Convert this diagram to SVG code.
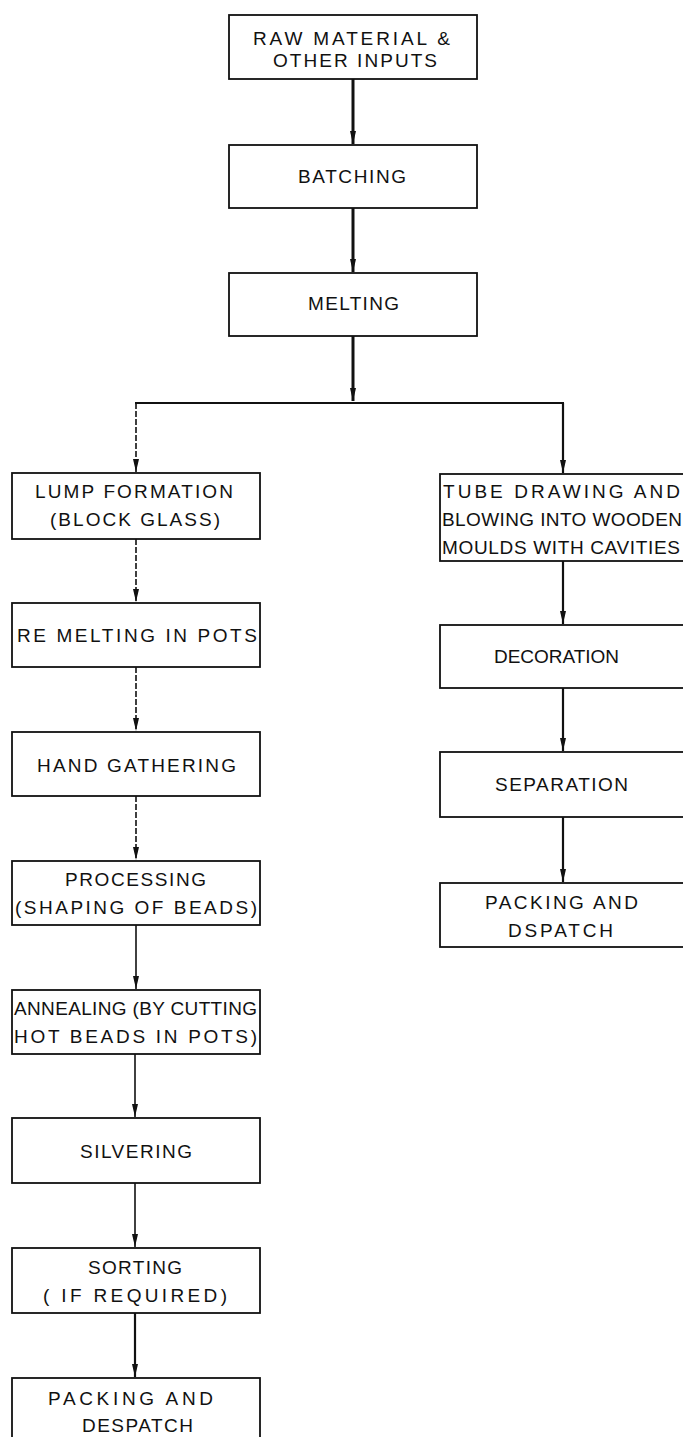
<svg xmlns="http://www.w3.org/2000/svg" width="683" height="1437" viewBox="0 0 683 1437">
<style>
  .box { fill: #fff; stroke: #111; stroke-width: 1.8; }
  .t { font-family: "Liberation Sans", Arial, sans-serif; font-size: 19px; fill: #111; }
  .c { fill: none; stroke: #111; }
  .thick { stroke-width: 3; }
  .mid { stroke-width: 2.2; }
  .thin { stroke-width: 1.6; }
  .dash { stroke-dasharray: 6 2; }
</style>
<defs>
  <marker id="ah" markerUnits="userSpaceOnUse" markerWidth="14" markerHeight="8" refX="13" refY="4" orient="auto" viewBox="0 0 14 8">
    <path d="M0,1 L13,4 L0,7 Z" fill="#111"/>
  </marker>
</defs>
<rect width="683" height="1437" fill="#fff"/>

<g id="connectors">
  <line class="c thick" x1="353" y1="79" x2="353" y2="144" marker-end="url(#ah)"/>
  <line class="c thick" x1="353" y1="208" x2="353" y2="272" marker-end="url(#ah)"/>
  <line class="c thick" x1="353" y1="336" x2="353" y2="401" marker-end="url(#ah)"/>
  <line class="c mid" x1="135" y1="403" x2="564" y2="403"/>
  <line class="c thin dash" x1="136" y1="403" x2="136" y2="472" marker-end="url(#ah)"/>
  <line class="c mid" x1="563" y1="403" x2="563" y2="473" marker-end="url(#ah)"/>
  <line class="c thin dash" x1="136" y1="539" x2="136" y2="602" marker-end="url(#ah)"/>
  <line class="c thin dash" x1="136" y1="667" x2="136" y2="731" marker-end="url(#ah)"/>
  <line class="c thin dash" x1="136" y1="796" x2="136" y2="860" marker-end="url(#ah)"/>
  <line class="c thin" x1="136" y1="925" x2="136" y2="989" marker-end="url(#ah)"/>
  <line class="c thin" x1="135" y1="1054" x2="135" y2="1117" marker-end="url(#ah)"/>
  <line class="c thin" x1="135" y1="1183" x2="135" y2="1247" marker-end="url(#ah)"/>
  <line class="c mid" x1="135" y1="1313" x2="135" y2="1377" marker-end="url(#ah)"/>
  <line class="c mid" x1="563" y1="561" x2="563" y2="624" marker-end="url(#ah)"/>
  <line class="c mid" x1="563" y1="688" x2="563" y2="751" marker-end="url(#ah)"/>
  <line class="c mid" x1="563" y1="817" x2="563" y2="882" marker-end="url(#ah)"/>
</g>

<g id="raw">
  <rect class="box" x="229" y="15" width="248" height="64"/>
  <text class="t" x="253" y="45" textLength="197" lengthAdjust="spacing">RAW MATERIAL &amp;</text>
  <text class="t" x="273" y="67" textLength="164" lengthAdjust="spacing">OTHER INPUTS</text>
</g>
<g id="batching">
  <rect class="box" x="229" y="145" width="248" height="63"/>
  <text class="t" x="298" y="183" textLength="108" lengthAdjust="spacing">BATCHING</text>
</g>
<g id="melting">
  <rect class="box" x="229" y="273" width="248" height="63"/>
  <text class="t" x="308" y="310" textLength="91" lengthAdjust="spacing">MELTING</text>
</g>

<g id="lump">
  <rect class="box" x="12" y="473" width="248" height="66"/>
  <text class="t" x="35" y="498" textLength="198" lengthAdjust="spacing">LUMP FORMATION</text>
  <text class="t" x="50" y="526" textLength="170" lengthAdjust="spacing">(BLOCK GLASS)</text>
</g>
<g id="remelting">
  <rect class="box" x="12" y="603" width="248" height="64"/>
  <text class="t" x="17" y="642" textLength="240" lengthAdjust="spacing">RE MELTING IN POTS</text>
</g>
<g id="hand">
  <rect class="box" x="12" y="732" width="248" height="64"/>
  <text class="t" x="37" y="772" textLength="199" lengthAdjust="spacing">HAND GATHERING</text>
</g>
<g id="processing">
  <rect class="box" x="12" y="861" width="248" height="64"/>
  <text class="t" x="65" y="886" textLength="141" lengthAdjust="spacing">PROCESSING</text>
  <text class="t" x="15" y="914" textLength="242" lengthAdjust="spacing">(SHAPING OF BEADS)</text>
</g>
<g id="annealing">
  <rect class="box" x="12" y="990" width="248" height="64"/>
  <text class="t" x="14" y="1015" textLength="243" lengthAdjust="spacing">ANNEALING (BY CUTTING</text>
  <text class="t" x="14" y="1043" textLength="243" lengthAdjust="spacing">HOT BEADS IN POTS)</text>
</g>
<g id="silvering">
  <rect class="box" x="12" y="1118" width="248" height="65"/>
  <text class="t" x="80" y="1158" textLength="112" lengthAdjust="spacing">SILVERING</text>
</g>
<g id="sorting">
  <rect class="box" x="12" y="1248" width="248" height="65"/>
  <text class="t" x="88" y="1274" textLength="94" lengthAdjust="spacing">SORTING</text>
  <text class="t" x="43" y="1302" textLength="184" lengthAdjust="spacing">( IF REQUIRED)</text>
</g>
<g id="packing-left">
  <rect class="box" x="12" y="1378" width="248" height="70"/>
  <text class="t" x="48" y="1405" textLength="165" lengthAdjust="spacing">PACKING AND</text>
  <text class="t" x="82" y="1432" textLength="111" lengthAdjust="spacing">DESPATCH</text>
</g>

<g id="tube">
  <rect class="box" x="440" y="474" width="250" height="87"/>
  <text class="t" x="443" y="498" textLength="237" lengthAdjust="spacing">TUBE DRAWING AND</text>
  <text class="t" x="442" y="526" textLength="240" lengthAdjust="spacing">BLOWING INTO WOODEN</text>
  <text class="t" x="442" y="554" textLength="238" lengthAdjust="spacing">MOULDS WITH CAVITIES</text>
</g>
<g id="decoration">
  <rect class="box" x="440" y="625" width="250" height="63"/>
  <text class="t" x="494" y="663" textLength="125" lengthAdjust="spacing">DECORATION</text>
</g>
<g id="separation">
  <rect class="box" x="440" y="752" width="250" height="65"/>
  <text class="t" x="495" y="791" textLength="133" lengthAdjust="spacing">SEPARATION</text>
</g>
<g id="packing-right">
  <rect class="box" x="440" y="883" width="250" height="64"/>
  <text class="t" x="485" y="909" textLength="153" lengthAdjust="spacing">PACKING AND</text>
  <text class="t" x="508" y="937" textLength="105" lengthAdjust="spacing">DSPATCH</text>
</g>
</svg>
